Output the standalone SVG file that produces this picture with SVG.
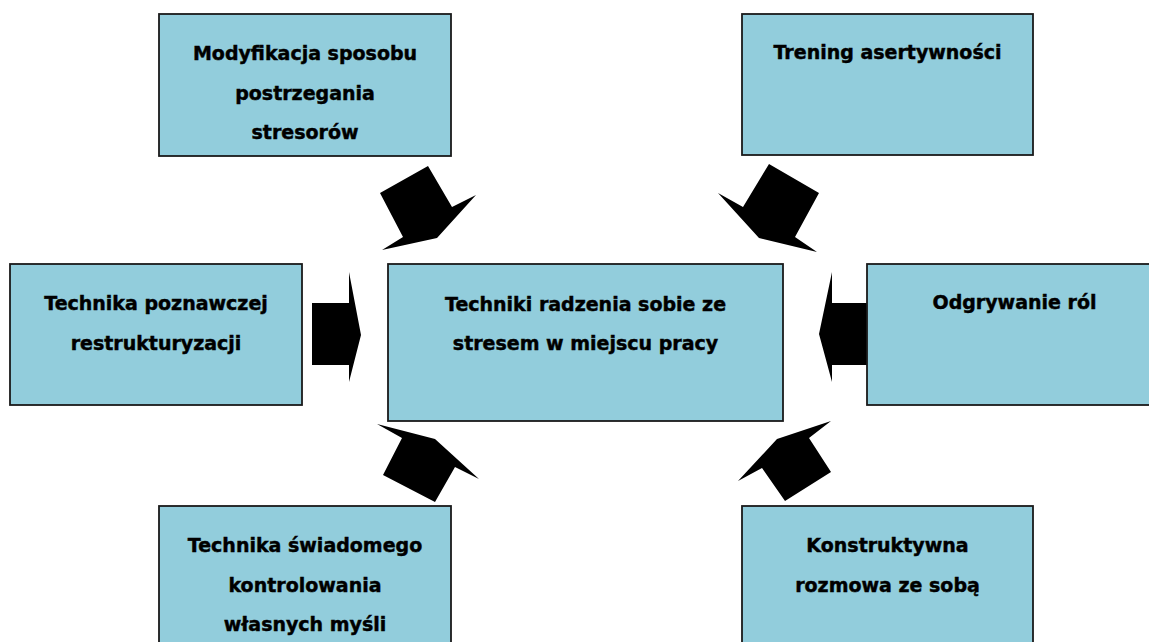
<svg xmlns="http://www.w3.org/2000/svg" width="1149" height="642" viewBox="0 0 1149 642">
  <style>
    .box { fill: #92cddc; stroke: #1a1a1a; stroke-width: 1.8; }
    .lbl { font-family: "DejaVu Sans", "Liberation Sans", sans-serif; font-weight: bold; font-size: 19px; fill: #000; stroke: #000; stroke-width: 0.45; text-anchor: middle; }
    .arrow { fill: #000; stroke: none; }
  </style>
  <rect width="1149" height="642" fill="#fff"/>

  <!-- connectors: block arrows pointing at the central box -->
  <g id="connectors">
    <polygon class="arrow" points="428,166 452,207 476,195 437,238 382,250 403,237 380,193"/>
    <polygon class="arrow" points="769,164 819,193 795,237 817,252 759,238 718,193 743,207"/>
    <polygon class="arrow" points="312,303 349,303 349,272 361,335 349,382 349,365 312,365"/>
    <polygon class="arrow" points="868,303 832,303 832,272 819,334 832,382 832,365 868,365"/>
    <polygon class="arrow" points="377,424 402,438 383,475 435,502 455,467 479,479 435,439"/>
    <polygon class="arrow" points="831,421 809,438 831,472 785,501 762,468 738,481 777,439"/>
  </g>

  <g id="center">
    <rect class="box" x="388" y="264" width="395" height="157"/>
    <text class="lbl" x="585.5" y="311">Techniki radzenia sobie ze</text>
    <text class="lbl" x="585.5" y="350">stresem w miejscu pracy</text>
  </g>

  <g id="modyfikacja">
    <rect class="box" x="159" y="14" width="292" height="142"/>
    <text class="lbl" x="305" y="60">Modyfikacja sposobu</text>
    <text class="lbl" x="305" y="99.5">postrzegania</text>
    <text class="lbl" x="305" y="139">stresorów</text>
  </g>

  <g id="trening">
    <rect class="box" x="742" y="14" width="291" height="141"/>
    <text class="lbl" x="887.5" y="59">Trening asertywności</text>
  </g>

  <g id="restrukturyzacja">
    <rect class="box" x="10" y="264" width="292" height="141"/>
    <text class="lbl" x="156" y="310">Technika poznawczej</text>
    <text class="lbl" x="156" y="349.5">restrukturyzacji</text>
  </g>

  <g id="odgrywanie">
    <rect class="box" x="867" y="264" width="292" height="141"/>
    <text class="lbl" x="1014.5" y="308.5">Odgrywanie ról</text>
  </g>

  <g id="swiadome">
    <rect class="box" x="159" y="506" width="292" height="142"/>
    <text class="lbl" x="305" y="552">Technika świadomego</text>
    <text class="lbl" x="305" y="591.5">kontrolowania</text>
    <text class="lbl" x="305" y="631">własnych myśli</text>
  </g>

  <g id="rozmowa">
    <rect class="box" x="742" y="506" width="291" height="142"/>
    <text class="lbl" x="887.5" y="552">Konstruktywna</text>
    <text class="lbl" x="887.5" y="591.5">rozmowa ze sobą</text>
  </g>
</svg>
